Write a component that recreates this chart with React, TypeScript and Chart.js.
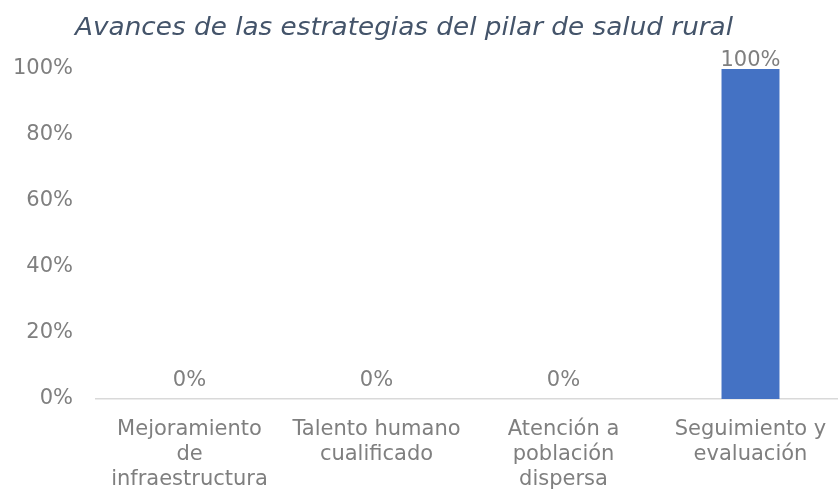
import React, { useEffect, useRef } from "react";
import { Chart, registerables } from "chart.js";

Chart.register(...registerables);

const title = "Avances de las estrategias del pilar de salud rural";
const categories: string[][] = [
  ["Mejoramiento", "de", "infraestructura"],
  ["Talento humano", "cualificado"],
  ["Atención a", "población", "dispersa"],
  ["Seguimiento y", "evaluación"],
];
const values = [0, 0, 0, 1];
const yTicks = [0, 0.2, 0.4, 0.6, 0.8, 1];

const FONT = "'DejaVu Sans', Verdana, sans-serif";
const GRAY = "#7f7f7f";

const titlePlugin = {
  id: "customTitle",
  afterDraw(chart: any) {
    const ctx = chart.ctx;
    ctx.save();
    ctx.font = `italic 25px ${FONT}`;
    ctx.fillStyle = "#44546A";
    ctx.textAlign = "center";
    ctx.textBaseline = "alphabetic";
    const w = ctx.measureText(title).width;
    const sx = 658 / w;
    ctx.translate(404, 35);
    ctx.scale(sx, 1);
    ctx.fillText(title, 0, 0);
    ctx.restore();
  },
};

const labelPlugin = {
  id: "valueLabels",
  afterDatasetsDraw(chart: any) {
    const ctx = chart.ctx;
    const meta = chart.getDatasetMeta(0);
    ctx.save();
    ctx.font = `21px ${FONT}`;
    ctx.fillStyle = GRAY;
    ctx.textAlign = "center";
    ctx.textBaseline = "middle";
    meta.data.forEach((bar: any, i: number) => {
      const v = values[i];
      const y = Math.max(bar.y - 18, chart.chartArea.top - 8);
      ctx.fillText(Math.round(v * 100) + "%", bar.x, y);
    });
    ctx.restore();
  },
};

export default function App() {
  const ref = useRef<HTMLCanvasElement | null>(null);
  useEffect(() => {
    document.documentElement.style.overflow = "hidden";
    document.body.style.margin = "0";
    const chart = new Chart(ref.current!, {
      type: "bar",
      data: {
        labels: categories,
        datasets: [
          {
            data: values,
            backgroundColor: "#4472C4",
            barPercentage: 0.62,
            categoryPercentage: 0.5,
          },
        ],
      },
      options: {
        animation: false,
        responsive: false,
        maintainAspectRatio: false,
        layout: { padding: { top: 69, left: 0, right: 2, bottom: 0 } },
        plugins: {
          legend: { display: false },
          tooltip: { enabled: false },
          title: { display: false },
        },
        scales: {
          x: {
            grid: { display: false, drawTicks: false },
            border: { display: true, color: "#d9d9d9", width: 1.5 },
            ticks: {
              color: GRAY,
              font: { family: FONT, size: 21, lineHeight: "25px" },
              padding: 18,
              maxRotation: 0,
              autoSkip: false,
            },
            afterFit(scale: any) {
              scale.height = 90;
            },
          },
          y: {
            min: 0,
            max: 1,
            afterBuildTicks(scale: any) {
              scale.ticks = yTicks.map((v) => ({ value: v }));
            },
            grid: { display: false, drawTicks: false },
            border: { display: false },
            ticks: {
              color: GRAY,
              font: { family: FONT, size: 21 },
              padding: 23,
              callback: (v: any) => Math.round(Number(v) * 100) + "%",
            },
            afterFit(scale: any) {
              scale.width = 96;
            },
          },
        },
      },
      plugins: [titlePlugin, labelPlugin],
    });
    return () => chart.destroy();
  }, []);
  return (
    <div style={{ position: "fixed", left: 0, top: 0, width: 846, height: 489 }}>
      <canvas ref={ref} width={846} height={489} style={{ display: "block" }} />
    </div>
  );
}
